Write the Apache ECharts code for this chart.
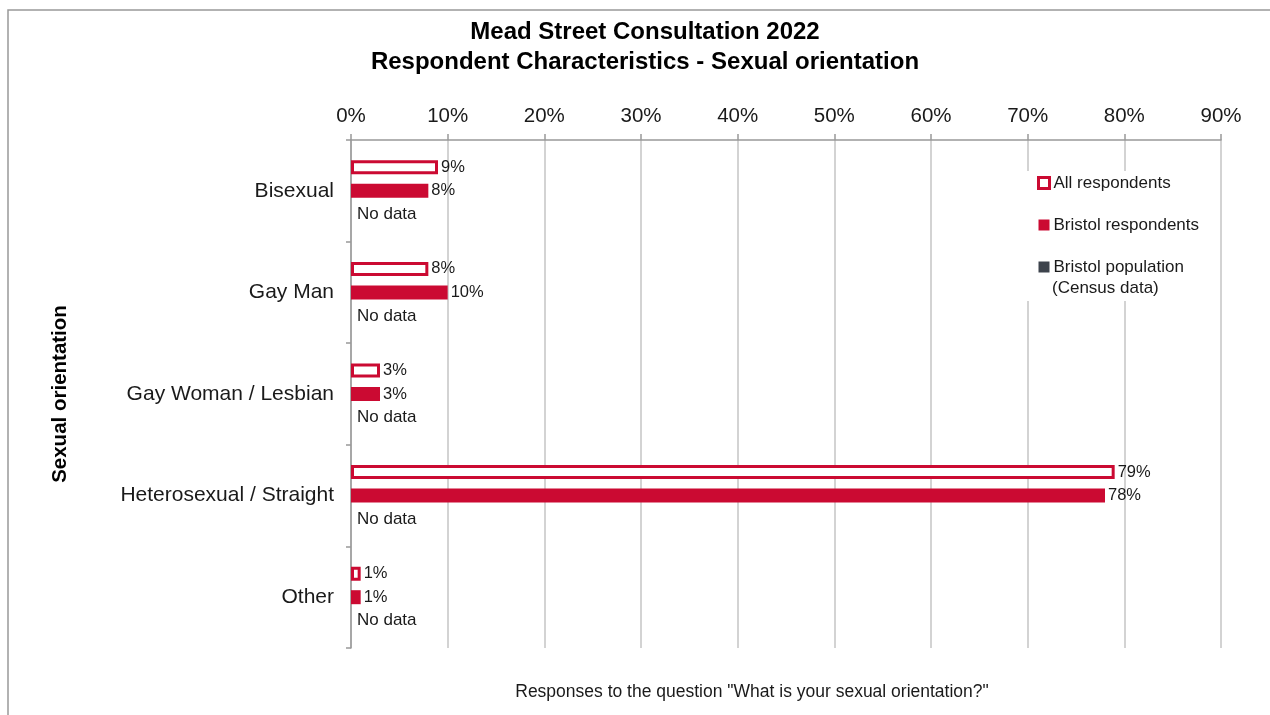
<!DOCTYPE html>
<html>
<head>
<meta charset="utf-8">
<title>Mead Street Consultation 2022 - Sexual orientation</title>
<script src="https://cdn.jsdelivr.net/npm/echarts@6/dist/echarts.min.js"></script>
<style>
  html, body { margin: 0; padding: 0; background: #ffffff; }
  #chart { width: 1270px; height: 715px; }
</style>
</head>
<body>
<div id="chart"></div>
<script>
// Categories (top to bottom)
const categories = ['Bisexual', 'Gay Man', 'Gay Woman / Lesbian', 'Heterosexual / Straight', 'Other'];

// Series values (%)
const allRespondents = [9, 8, 3, 79, 1];
const bristolRespondents = [8, 10, 3, 78, 1];
const bristolPopulation = [null, null, null, null, null]; // census figures not available

// Value axis ticks
const axisMin = 0;
const axisMax = 90;
const axisStep = 10;

const RED = '#CB0A32';
const DARK = '#3D434C';
const FONT = 'Liberation Sans, Arial, sans-serif';
const TEXT = '#1a1a1a';

const chart = echarts.init(document.getElementById('chart'));

const pctLabel = {
  show: true,
  position: 'right',
  distance: 3,
  fontFamily: FONT,
  fontSize: 16.5,
  color: TEXT,
  formatter: p => p.value + '%'
};

chart.setOption({
  backgroundColor: '#ffffff',
  animation: false,
  title: {
    text: 'Mead Street Consultation 2022\nRespondent Characteristics - Sexual orientation',
    left: 640,
    textAlign: 'center',
    top: 12,
    textStyle: { fontFamily: FONT, fontSize: 24, fontWeight: 'bold', color: '#000', lineHeight: 30 }
  },
  legend: {
    orient: 'vertical',
    left: 1026,
    top: 171,
    padding: [2, 14, 24, 11],
    backgroundColor: '#ffffff',
    itemWidth: 11,
    itemHeight: 11,
    itemGap: 22,
    icon: 'rect',
    data: [
      { name: 'All respondents', itemStyle: { color: '#ffffff', borderColor: RED, borderWidth: 3 } },
      { name: 'Bristol respondents' },
      { name: 'Bristol population' }
    ],
    textStyle: { fontFamily: FONT, fontSize: 17, color: TEXT, lineHeight: 20, padding: [0, 0, 0, -1] },
    z: 10
  },
  grid: { left: 351, right: 49, top: 140, bottom: 67, containLabel: false },
  xAxis: {
    type: 'value',
    position: 'top',
    min: axisMin,
    max: axisMax,
    interval: axisStep,
    axisLine: { show: true, lineStyle: { color: '#999999', width: 1.5 } },
    axisTick: { show: true, length: 6, lineStyle: { color: '#999999', width: 1.5 } },
    axisLabel: { fontFamily: FONT, fontSize: 20.5, color: TEXT, margin: 13, formatter: '{value}%' },
    splitLine: { show: true, lineStyle: { color: '#c4c4c4', width: 1.5 } }
  },
  yAxis: {
    type: 'category',
    data: categories,
    inverse: true,
    name: 'Sexual orientation',
    nameLocation: 'middle',
    nameGap: 280,
    nameRotate: 90,
    nameTextStyle: { fontFamily: FONT, fontSize: 20.5, fontWeight: 'bold', color: '#000' },
    axisLine: { show: true, lineStyle: { color: '#999999', width: 1.5 } },
    axisTick: { show: true, length: 5, lineStyle: { color: '#999999', width: 1.5 } },
    axisLabel: { fontFamily: FONT, fontSize: 21, color: TEXT, margin: 17 }
  },
  series: [
    {
      name: 'All respondents',
      type: 'bar',
      data: allRespondents,
      barWidth: 14,
      barGap: '68%',
      itemStyle: { color: '#ffffff', borderColor: RED, borderWidth: 3 },
      label: pctLabel
    },
    {
      name: 'Bristol respondents',
      type: 'bar',
      data: bristolRespondents,
      barWidth: 14,
      barGap: '68%',
      itemStyle: { color: RED },
      label: pctLabel
    },
    {
      name: 'Bristol population',
      type: 'bar',
      data: bristolPopulation.map(v => (v == null ? 0 : v)),
      barWidth: 14,
      barGap: '68%',
      itemStyle: { color: DARK },
      label: {
        show: true,
        position: 'right',
        distance: 6,
        fontFamily: FONT,
        fontSize: 17,
        color: TEXT,
        formatter: p => (bristolPopulation[p.dataIndex] == null ? 'No data' : p.value + '%')
      }
    }
  ],
  graphic: [
    {
      type: 'rect',
      z: -1,
      silent: true,
      shape: { x: 8, y: 10, width: 1300, height: 800 },
      style: { fill: 'none', stroke: '#999999', lineWidth: 1.5 }
    },
    {
      type: 'text',
      z: 100,
      silent: true,
      style: {
        x: 1052, y: 288, text: '(Census data)',
        fontFamily: FONT, fontSize: 17, fill: TEXT, textVerticalAlign: 'middle'
      }
    },
    {
      type: 'text',
      silent: true,
      style: {
        x: 752, y: 692,
        text: 'Responses to the question "What is your sexual orientation?"',
        fontFamily: FONT, fontSize: 17.5, fill: TEXT, textAlign: 'center', textVerticalAlign: 'middle'
      }
    }
  ]
});
</script>
</body>
</html>
